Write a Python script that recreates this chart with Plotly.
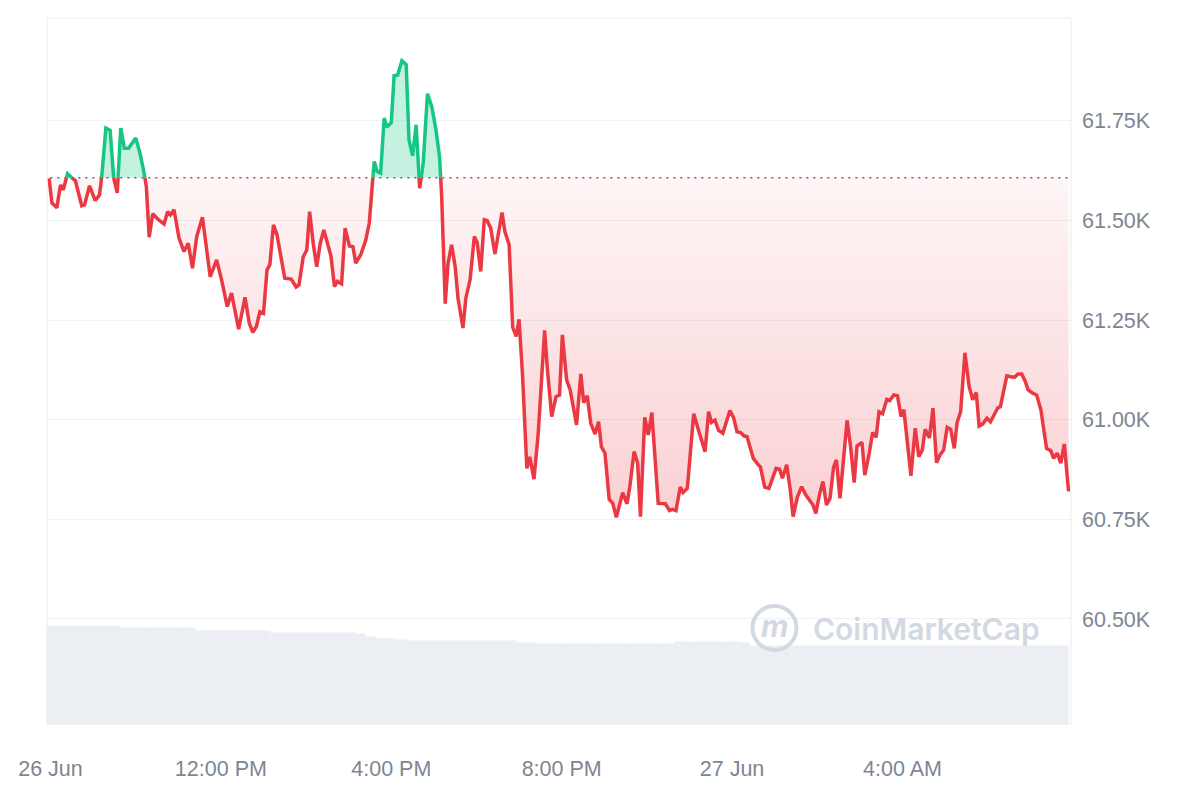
import plotly.graph_objects as go
import pandas as pd
import numpy as np

# ---------------- data ----------------
base_price = 61607  # 24h reference (dotted line)

minutes = [478,482,489,494,498,504,510,515,524,528,535,543,549,552,558,564,569,574,579,584,590,600,606,611,615,619,624,632,640,645,649,654,661,668,674,680,686,694,705,714,721,729,735,745,754,760,765,770,775,780,785,789,794,799,804,810,819,826,830,836,841,845,850,855,860,865,875,880,884,890,895,901,906,910,917,924,929,934,936,940,945,950,954,960,964,969,975,981,985,990,995,1000,1005,1011,1017,1023,1028,1031,1036,1040,1045,1050,1054,1061,1065,1071,1077,1081,1086,1091,1095,1100,1106,1111,1116,1120,1126,1131,1136,1140,1145,1151,1155,1161,1167,1176,1180,1186,1192,1197,1201,1207,1212,1221,1227,1231,1236,1241,1247,1252,1256,1261,1267,1272,1277,1286,1292,1296,1302,1307,1311,1317,1322,1327,1336,1346,1352,1356,1361,1367,1371,1377,1382,1386,1394,1402,1407,1411,1416,1421,1427,1432,1437,1442,1447,1452,1457,1461,1470,1475,1480,1486,1492,1502,1507,1511,1517,1522,1526,1532,1538,1544,1550,1554,1558,1563,1568,1573,1578,1583,1587,1592,1602,1607,1612,1616,1623,1627,1633,1638,1643,1647,1652,1658,1662,1668,1673,1678,1682,1687,1692,1698,1703,1708,1712,1718,1723,1728,1733,1738,1743,1748,1753,1757,1762,1768,1774,1779,1784,1788,1793,1799,1804,1809,1814,1818,1827,1832,1838,1843,1848,1853,1857,1863,1869,1875,1883,1889,1893,1898,1903,1908,1914]

prices = [61606,61544,61532,61589,61577,61617,61607,61600,61537,61539,61587,61550,61564,61607,61732,61726,61607,61569,61732,61681,61681,61707,61669,61627,61585,61458,61517,61502,61491,61522,61514,61527,61456,61422,61443,61380,61460,61508,61359,61401,61351,61284,61318,61227,61307,61242,61219,61234,61271,61267,61376,61389,61489,61464,61409,61355,61353,61333,61338,61409,61426,61522,61443,61384,61443,61476,61411,61334,61347,61341,61481,61436,61434,61393,61414,61450,61493,61606,61648,61623,61619,61757,61734,61746,61863,61865,61901,61891,61702,61662,61740,61581,61644,61818,61786,61727,61660,61560,61291,61393,61439,61384,61305,61230,61305,61351,61460,61445,61372,61502,61500,61481,61416,61472,61520,61472,61439,61232,61209,61252,61108,60878,60907,60851,60966,61224,61125,61008,61058,61062,61213,61100,61075,60987,61115,61043,61060,60991,60964,60995,60932,60916,60800,60790,60755,60817,60789,60832,60920,60891,60757,61006,60962,61018,60790,60789,60772,60775,60772,60831,60817,60828,60941,61015,60966,60920,61020,60993,60999,60973,60966,60995,61023,61006,60970,60968,60959,60958,60903,60891,60881,60831,60828,60878,60876,60853,60887,60824,60757,60806,60832,60811,60794,60786,60765,60811,60845,60786,60803,60881,60899,60803,60998,60932,60842,60934,60943,60861,60914,60968,60956,61020,61015,61051,61048,61062,61060,61008,61025,60949,60859,60979,60907,60924,60976,60954,61029,60892,60912,60924,60981,60976,60928,60993,61020,61168,61083,61050,61068,60984,60989,61004,60995,61012,61029,61033,61110,61108,61107,61115,61115,61096,61075,61067,61062,61025,60928,60922,60903,60916,60891,60939,60820]

# 24h volume (billions USD), one value per 15-minute slot
volume = [27.0]*7 + [26.4]*7 + [25.7]*7 + [25.2]*7 + [25.1, 24.8, 24.0, 23.6, 23.4, 23.1] \
    + [22.9]*6 + [22.8]*4 + [22.5, 22.3, 22.1, 22.0] + [22.0]*11 + [22.6]*6 + [22.4] + [21.5]*30

tick_times = ["2024-06-26 08:00", "2024-06-26 12:00", "2024-06-26 16:00",
              "2024-06-26 20:00", "2024-06-27 00:00", "2024-06-27 04:00"]
tick_labels = ["26 Jun", "12:00 PM", "4:00 PM", "8:00 PM", "27 Jun", "4:00 AM"]
y_ticks = [60500, 60750, 61000, 61250, 61500, 61750]
y_labels = ["60.50K", "60.75K", "61.00K", "61.25K", "61.50K", "61.75K"]

assert len(minutes) == len(prices), (len(minutes), len(prices))

GREEN = "#16c784"
RED = "#ea3943"
LABEL = "#7e8593"
FONT = "Liberation Sans, Arial, sans-serif"
day0 = pd.Timestamp("2024-06-26")

# -------- insert baseline crossings (for colouring only) --------
m_aug, p_aug = [], []
for i in range(len(prices)):
    if i > 0:
        a, b = prices[i-1] - base_price, prices[i] - base_price
        if a * b < 0:
            t = a / (a - b)
            m_aug.append(minutes[i-1] + t * (minutes[i] - minutes[i-1]))
            p_aug.append(base_price)
    m_aug.append(minutes[i])
    p_aug.append(prices[i])
m_aug = np.array(m_aug, dtype=float)
p_aug = np.array(p_aug, dtype=float)
x_aug = day0 + pd.to_timedelta(m_aug, unit="min")

above = np.maximum(p_aug, base_price)
below = np.minimum(p_aug, base_price)
green_line = [v if v >= base_price else None for v in p_aug]
red_line = [v if v <= base_price else None for v in p_aug]
base_arr = [base_price] * len(p_aug)

vol_x = pd.date_range("2024-06-26 08:02:30", periods=len(volume), freq="15min")

fig = go.Figure()

fig.add_trace(go.Bar(x=vol_x, y=volume, yaxis="y2",
                     marker=dict(color="#ebeef2", line=dict(width=0.6, color="#f2f4f7")),
                     width=15*60*1000, hoverinfo="skip"))

# green fill
fig.add_trace(go.Scatter(x=x_aug, y=base_arr, mode="lines", line=dict(width=0), hoverinfo="skip"))
fig.add_trace(go.Scatter(x=x_aug, y=above, mode="lines", line=dict(width=0), fill="tonexty",
                         fillcolor="rgba(22,199,132,0.25)", hoverinfo="skip"))
# red fill (gradient)
fig.add_trace(go.Scatter(x=x_aug, y=base_arr, mode="lines", line=dict(width=0), hoverinfo="skip"))
fig.add_trace(go.Scatter(x=x_aug, y=below, mode="lines", line=dict(width=0), fill="tonexty",
                         fillgradient=dict(type="vertical", start=60740, stop=base_price,
                                           colorscale=[[0, "rgba(234,57,67,0.24)"], [1, "rgba(234,57,67,0.05)"]]),
                         hoverinfo="skip"))

# dotted baseline
fig.add_trace(go.Scatter(x=[day0 + pd.Timedelta(minutes=470), day0 + pd.Timedelta(minutes=1925)],
                         y=[base_price, base_price], mode="lines",
                         line=dict(color="#5f6673", width=1.5, dash="2px,5px"), hoverinfo="skip"))

fig.add_trace(go.Scatter(x=x_aug, y=red_line, mode="lines", line=dict(color=RED, width=3.5),
                         connectgaps=False, hoverinfo="skip"))
fig.add_trace(go.Scatter(x=x_aug, y=green_line, mode="lines", line=dict(color=GREEN, width=3.5),
                         connectgaps=False, hoverinfo="skip"))

BORDER = "#e9ecf0"
shapes = [
    dict(type="line", xref="paper", yref="paper", x0=0, x1=1, y0=1, y1=1, line=dict(color=BORDER, width=1)),
    dict(type="line", xref="paper", yref="paper", x0=0, x1=0, y0=0, y1=1, line=dict(color=BORDER, width=1)),
    dict(type="line", xref="paper", yref="paper", x0=1, x1=1, y0=0, y1=1, line=dict(color=BORDER, width=1)),
    # watermark logo ring
    dict(type="circle", xref="paper", yref="paper", x0=0.6890, x1=0.7319, y0=0.1061, y1=0.1683,
         line=dict(color="#d3d9e2", width=4)),
]

annotations = [
    dict(text="CoinMarketCap", xref="paper", yref="paper", x=0.8584, y=0.1358, showarrow=False,
         xanchor="center", yanchor="middle",
         font=dict(family="Inter", size=30, color="#d3d9e2", weight=600)),
    dict(text="<i>m</i>", xref="paper", yref="paper", x=0.7104, y=0.1400, showarrow=False,
         xanchor="center", yanchor="middle",
         font=dict(family="Inter", size=30, color="#d3d9e2", weight=700)),
]

fig.update_layout(
    width=1200, height=800,
    margin=dict(l=47, r=129, t=18, b=75),
    paper_bgcolor="white", plot_bgcolor="white",
    showlegend=False,
    bargap=0,
    font=dict(family=FONT, color=LABEL),
    shapes=shapes, annotations=annotations,
    xaxis=dict(type="date", range=["2024-06-26 07:55:05", "2024-06-27 07:57:25"],
               tickvals=tick_times, ticktext=tick_labels, showgrid=False, zeroline=False,
               showline=False, ticks="", tickfont=dict(family=FONT, size=21.5, color=LABEL),
               ticklabelstandoff=28),
    yaxis=dict(side="right", range=[60234, 62008], tickvals=y_ticks, ticktext=y_labels,
               showgrid=True, gridcolor="#eff2f5", gridwidth=1, zeroline=False, showline=False,
               ticks="", tickfont=dict(family=FONT, size=21.5, color=LABEL), ticklabelstandoff=10),
    yaxis2=dict(overlaying="y", range=[0, 193], visible=False),
)

fig.write_html("out.html")
